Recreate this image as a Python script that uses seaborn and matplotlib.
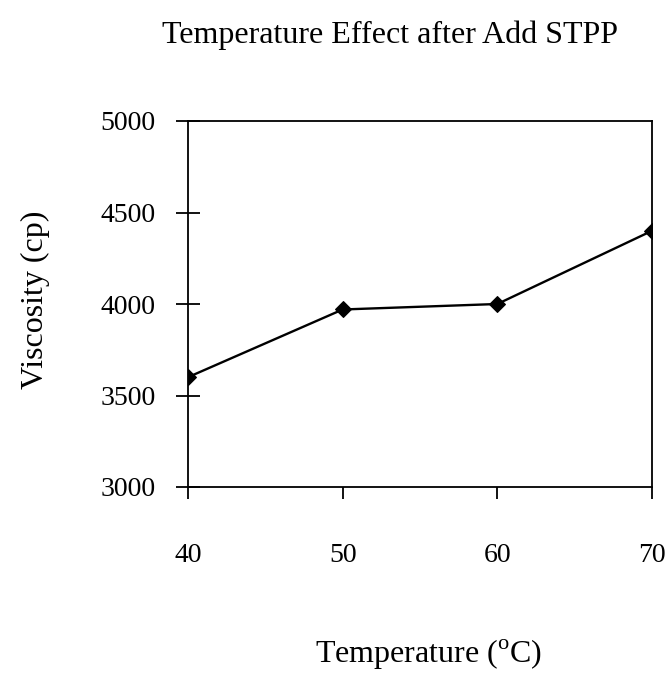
import matplotlib
matplotlib.use('Agg')
import matplotlib.pyplot as plt
import pandas as pd
import seaborn as sns

# Data
temperature = [40, 50, 60, 70]
viscosity = [3600, 3970, 4000, 4400]
y_ticks = [3000, 3500, 4000, 4500, 5000]

df = pd.DataFrame({'temperature': temperature, 'viscosity': viscosity})

sns.set_style('ticks')
plt.rcParams['font.family'] = ['Liberation Serif', 'DejaVu Serif']
plt.rcParams['text.color'] = 'black'
plt.rcParams['mathtext.fontset'] = 'custom'
plt.rcParams['mathtext.rm'] = 'Liberation Serif'

fig = plt.figure(figsize=(6.72, 6.74), dpi=100)
ax = fig.add_axes([188 / 672, 187 / 674, 464 / 672, 366 / 674])

sns.lineplot(data=df, x='temperature', y='viscosity', ax=ax, color='black',
             linewidth=1.7, marker='D', markersize=8, markeredgecolor='black')

ax.set_xlim(40, 70)
ax.set_ylim(3000, 5000)
ax.set_xticks(temperature)
ax.set_yticks(y_ticks)

for s in ax.spines.values():
    s.set_linewidth(1.3)
    s.set_color('black')

ax.tick_params(axis='x', direction='out', length=8.5, width=1.3, pad=32,
               labelsize=20, colors='black')
ax.tick_params(axis='y', direction='inout', length=17, width=1.3, pad=15,
               labelsize=20, colors='black')

ax.set_xlabel('')
ax.set_ylabel('')

# axis titles and chart title placed like the reference
fig.text(429 / 672, 1 - 655 / 674, r'Temperature ($^{\mathrm{o}}$C)',
         ha='center', va='center', fontsize=23)
fig.text(35 / 672, 1 - 300 / 674, 'Viscosity (cp)', rotation=90,
         ha='center', va='center', fontsize=23)
fig.text(390 / 672, 1 - 35 / 674, 'Temperature Effect after Add STPP',
         ha='center', va='center', fontsize=23)

fig.savefig('out.png', dpi=100)
